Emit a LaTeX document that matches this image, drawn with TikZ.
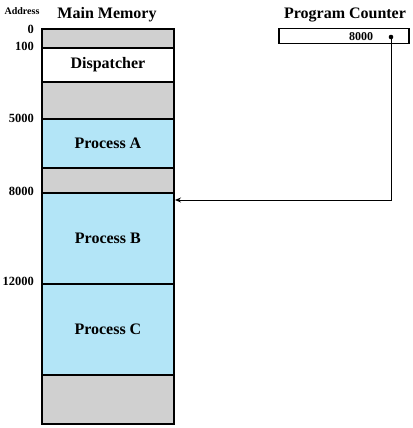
\documentclass[tikz,border=0pt]{standalone}
\usepackage{fontspec}
\setmainfont{Liberation Serif}
\usetikzlibrary{arrows.meta}
\definecolor{memgray}{HTML}{D0D0D0}
\definecolor{procblue}{HTML}{B3E5F7}
\begin{document}
\begin{tikzpicture}[x=1pt,y=-1pt,
  seg/.style={draw=black,line width=1.8pt,anchor=north west,inner sep=0pt,minimum width=132pt,font=\fontsize{16}{18}\selectfont\bfseries},
  graybox/.style={seg,fill=memgray},
  bluebox/.style={seg,fill=procblue},
  whitebox/.style={seg,fill=white},
  addr/.style={anchor=east,inner sep=0pt,font=\fontsize{12.5}{14}\selectfont\bfseries},
  title/.style={inner sep=0pt,font=\fontsize{16}{18}\selectfont\bfseries}]
\useasboundingbox (0,0) rectangle (412,428);
% memory segments
\node[graybox,minimum height=19pt] (s0) at (41,28) {};
\node[whitebox,minimum height=34pt] (disp) at (41,47) {Dispatcher};
\node[graybox,minimum height=37pt] (s1) at (41,81) {};
\node[bluebox,minimum height=49pt] (pa) at (41,118) {Process A};
\node[graybox,minimum height=25pt] (s2) at (41,167) {};
\node[bluebox,minimum height=91pt] (pb) at (41,192) {Process B};
\node[bluebox,minimum height=91pt] (pc) at (41,283) {Process C};
\node[graybox,minimum height=49pt] (s3) at (41,374) {};
% titles
\node[inner sep=0pt,font=\fontsize{10}{12}\selectfont\bfseries] (addrt) at (22,11) {Address};
\node[title] (mmt) at (107,15) {Main Memory};
\node[title] (pct) at (345,15) {Program Counter};
% addresses
\node[addr] (a0) at (34,29) {0};
\node[addr] (a100) at (34,46) {100};
\node[addr] (a5000) at (34,118) {5000};
\node[addr] (a8000) at (34,191) {8000};
\node[addr] (a12000) at (34,281) {12000};
% program counter
\node[draw=black,line width=1.5pt,anchor=north west,inner sep=0pt,minimum width=130pt,minimum height=15pt] (pcbox) at (278,28) {};
\node[inner sep=0pt,font=\fontsize{12}{14}\selectfont\bfseries] (pcval) at (361,36.5) {8000};
\fill (391,37) circle (2.3pt);
\coordinate (dot) at (391,37);
\coordinate (bend) at (391,200);
\coordinate (tip) at (175,200);
\draw[line width=0.9pt,-{Stealth[length=6pt,width=5pt]}] (dot) -- (bend) -- (tip);
\end{tikzpicture}
\end{document}
